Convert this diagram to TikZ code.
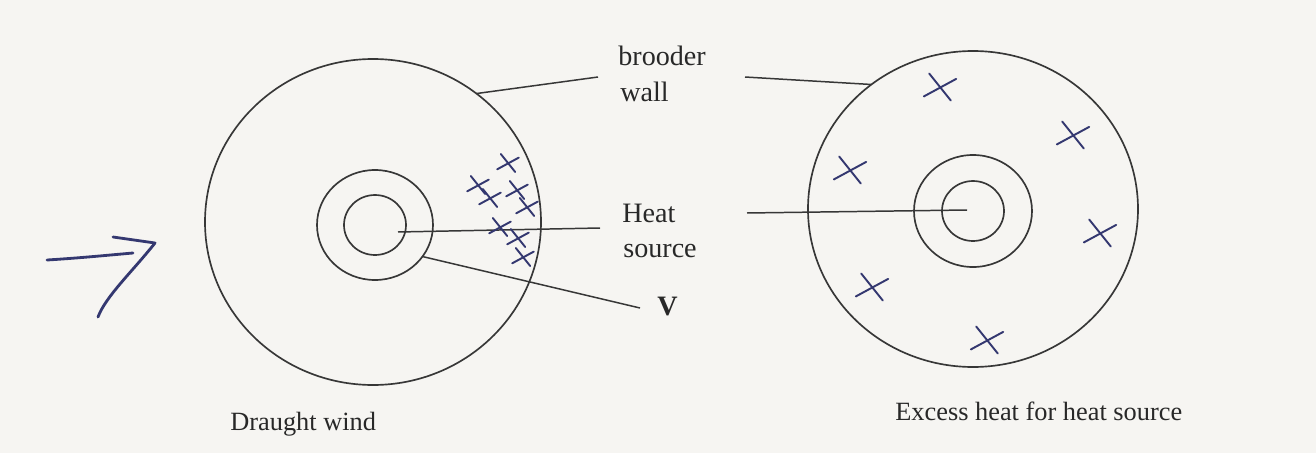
\documentclass[tikz,border=0pt]{standalone}
\usepackage{fontspec}
\setmainfont{Liberation Serif}
\usetikzlibrary{calc}
\definecolor{bgc}{RGB}{246,245,242}
\definecolor{linec}{RGB}{55,55,55}
\definecolor{textc}{RGB}{40,40,40}
\definecolor{inkc}{RGB}{52,56,112}
\begin{document}
\begin{tikzpicture}[x=0.02cm,y=-0.02cm,
  wallline/.style={draw=linec, line width=0.95pt},
  leader/.style={draw=linec, line width=0.85pt},
  lbl/.style={font=\fontsize{16}{19}\selectfont, text=textc, inner sep=0pt, anchor=base west},
  captxt/.style={font=\fontsize{15}{18}\selectfont, text=textc, inner sep=0pt, anchor=base west},
  ink/.style={draw=inkc, line width=1.1pt, line cap=round},
  xm/.pic={\draw[ink] (-8,-10) -- (8,10); \draw[ink] (-12,7) -- (12,-6);}
]
\fill[bgc] (0,0) rectangle (1316,453);
\useasboundingbox (0,0) rectangle (1316,453);

% centres
\coordinate (L) at (373,222);
\coordinate (Lc) at (375,225);
\coordinate (R) at (973,209);
\coordinate (Rc) at (973,211);

% left brooder
\draw[wallline] (L) ellipse [x radius=168, y radius=163];
\draw[wallline] (Lc) ellipse [x radius=58, y radius=55];
\draw[wallline] (Lc) ellipse [x radius=31, y radius=30];

% right brooder
\draw[wallline] (R) ellipse [x radius=165, y radius=158];
\draw[wallline] (Rc) ellipse [x radius=59, y radius=56];
\draw[wallline] (Rc) ellipse [x radius=31, y radius=30];

% labels
\node[lbl] (brooder) at (618,65) {brooder};
\node[lbl] (wall) at (620,101) {wall};
\node[lbl] (heat) at (622,222) {Heat};
\node[lbl] (source) at (623,257) {source};
\node[lbl, font=\fontsize{16}{19}\selectfont\bfseries] (V) at (657,315) {V};
\node[captxt] (cap1) at (230,430) {Draught wind};
\node[captxt] (cap2) at (895,420) {Excess heat for heat source};

% leader lines
\coordinate (bwL) at ($(L)+(-52:168 and 163)$);
\coordinate (bwLe) at (598,77);
\coordinate (bwRs) at (745,77);
\coordinate (bwR) at ($(R)+(-128:165 and 158)$);
\coordinate (hsL) at (398,232);
\coordinate (hsLe) at (600,228);
\coordinate (hsRs) at (747,213);
\coordinate (hsR) at (967,210);
\coordinate (vS) at ($(Lc)+(35:58 and 55)$);
\coordinate (vE) at (640,308);
\draw[leader] (bwL) -- (bwLe);
\draw[leader] (bwRs) -- (bwR);
\draw[leader] (hsL) -- (hsLe);
\draw[leader] (hsRs) -- (hsR);
\draw[leader] (vS) -- (vE);

% crowded marks (left)
\foreach \p in {(508,163),(478,185),(517,190),(490,198),(527,207),(500,227),(518,238),(523,257)}
  \pic[scale=0.9] at \p {xm};

% spread marks (right)
\foreach \p in {(940,87),(1073,135),(850,170),(1100,233),(872,287),(987,340)}
  \pic[scale=1.35] at \p {xm};

% hand-drawn arrow
\draw[ink, line width=1.6pt] (47,260) .. controls (80,258) and (110,255) .. (133,253);
\draw[ink, line width=1.6pt, line join=round] (113,237) -- (155,243) .. controls (132,272) and (106,296) .. (98,317);
\end{tikzpicture}
\end{document}
